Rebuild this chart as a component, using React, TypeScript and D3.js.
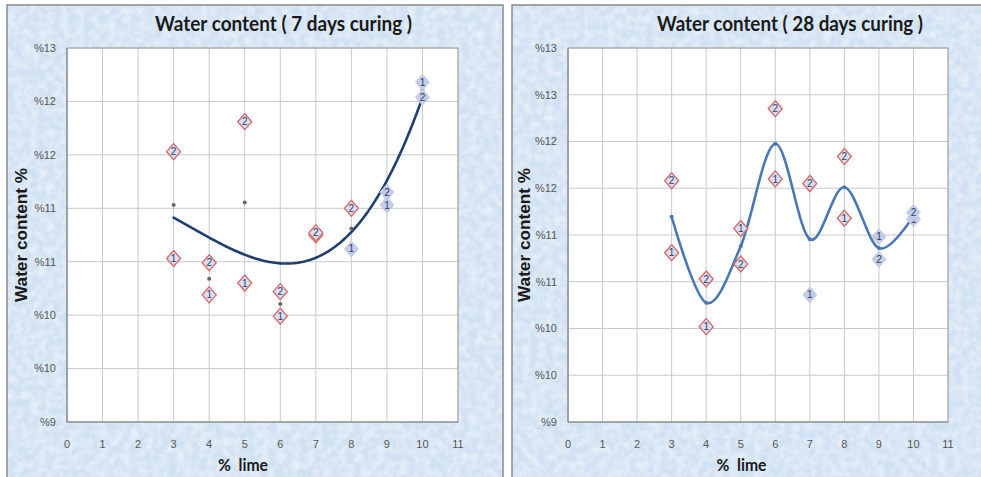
import React from 'react';
import * as d3 from 'd3';

// ---- data ----
const limePct = [3, 4, 5, 6, 7, 8, 9, 10];
const xTicks = [0, 1, 2, 3, 4, 5, 6, 7, 8, 9, 10, 11];
const day7Sample1 = [10.53, 10.19, 10.3, 9.99, 10.75, 10.62, 11.03, 12.18];
const day7Sample2 = [11.53, 10.49, 11.81, 10.22, 10.77, 11.0, 11.15, 12.04];
const day28Sample1 = [10.81, 10.02, 11.07, 11.6, 10.36, 11.18, 10.98, 11.17];
const day28Sample2 = [11.58, 10.53, 10.69, 12.35, 11.55, 11.84, 10.74, 11.24];
const yTicks7 = [9, 9.5, 10, 10.5, 11, 11.5, 12, 12.5];
const yTicks28 = [9, 9.5, 10, 10.5, 11, 11.5, 12, 12.5, 13];
const sampleNames = ['1', '2'];
const titles = ['Water content ( 7 days curing )', 'Water content ( 28 days curing )'];
// markers drawn without the red outline (by lime %)
const plain7 = [[8, 9, 10], [9, 10]];
const plain28 = [[7, 9, 10], [9, 10]];

function polyFit(xs: number[], ys: number[], deg: number) {
  const n = deg + 1;
  const A: number[][] = Array.from({ length: n }, () => new Array(n + 1).fill(0));
  for (let r = 0; r < n; r++) {
    for (let c = 0; c < n; c++) A[r][c] = d3.sum(xs, (x) => Math.pow(x, r + c));
    A[r][n] = d3.sum(xs, (x, i) => Math.pow(x, r) * ys[i]);
  }
  for (let i = 0; i < n; i++) {
    let p = i;
    for (let k = i + 1; k < n; k++) if (Math.abs(A[k][i]) > Math.abs(A[p][i])) p = k;
    [A[i], A[p]] = [A[p], A[i]];
    for (let k = 0; k < n; k++) {
      if (k === i) continue;
      const f = A[k][i] / A[i][i];
      for (let c = i; c <= n; c++) A[k][c] -= f * A[i][c];
    }
  }
  const coef = A.map((row, i) => row[n] / row[i]);
  return (x: number) => coef.reduce((s, c, i) => s + c * Math.pow(x, i), 0);
}

type PanelProps = {
  panel: { x: number; y: number; w: number; h: number };
  plot: { x0: number; x1: number; y0: number; y1: number };
  yTicks: number[];
  s1: number[];
  s2: number[];
  plain: number[][];
  title: string;
  titleX: number;
  titleLen: number;
  yTitleX: number;
  xTitleX: number;
  mode: 'poly' | 'smooth';
  lineColor: string;
};

function Panel(p: PanelProps) {
  const x = d3.scaleLinear().domain([0, 11]).range([p.plot.x0, p.plot.x1]);
  const y = d3
    .scaleLinear()
    .domain([d3.min(p.yTicks)!, d3.max(p.yTicks)!])
    .range([p.plot.y1, p.plot.y0]);
  const avg = limePct.map((_, i) => (p.s1[i] + p.s2[i]) / 2);
  let linePath = '';
  if (p.mode === 'poly') {
    const f = polyFit(limePct, avg, 3);
    const pts = d3.range(3, 10.0001, 0.05).map((v) => [v, f(v)] as [number, number]);
    linePath = d3.line<[number, number]>().x((d) => x(d[0])).y((d) => y(d[1])).curve(d3.curveLinear)(pts) || '';
  } else {
    const pts = limePct.map((v, i) => [v, avg[i]] as [number, number]);
    linePath = d3.line<[number, number]>().x((d) => x(d[0])).y((d) => y(d[1])).curve(d3.curveCardinal.tension(0))(pts) || '';
  }
  const diamond = (cx: number, cy: number) =>
    `M${cx},${cy - 8}L${cx + 7},${cy}L${cx},${cy + 8}L${cx - 7},${cy}Z`;
  const series = [p.s1, p.s2];
  return (
    <g>
      <rect x={p.panel.x} y={p.panel.y} width={p.panel.w} height={p.panel.h} fill="#d0e1f3" stroke="#8a8a8a" strokeWidth={1.5} />
      <rect x={p.panel.x + 1} y={p.panel.y + 1} width={p.panel.w - 2} height={p.panel.h - 2} fill="#ffffff" filter="url(#paper)" opacity={0.6} />
      <rect x={p.plot.x0} y={p.plot.y0} width={p.plot.x1 - p.plot.x0} height={p.plot.y1 - p.plot.y0} fill="#ffffff" />
      {xTicks.map((t) => (
        <line key={'gx' + t} x1={x(t)} x2={x(t)} y1={p.plot.y0} y2={p.plot.y1} stroke="#c9c9c9" strokeWidth={1} />
      ))}
      {p.yTicks.map((t) => (
        <line key={'gy' + t} x1={p.plot.x0} x2={p.plot.x1} y1={y(t)} y2={y(t)} stroke="#c9c9c9" strokeWidth={1} />
      ))}
      <rect x={p.plot.x0} y={p.plot.y0} width={p.plot.x1 - p.plot.x0} height={p.plot.y1 - p.plot.y0} fill="none" stroke="#a0a0a0" strokeWidth={1} />
      <line x1={p.plot.x0} x2={p.plot.x0} y1={p.plot.y0} y2={p.plot.y1} stroke="#8c8c8c" strokeWidth={1.2} />
      <line x1={p.plot.x0} x2={p.plot.x1} y1={p.plot.y1} y2={p.plot.y1} stroke="#8c8c8c" strokeWidth={1.2} />
      {p.yTicks.map((t) => (
        <text key={'ty' + t} x={p.plot.x0 - 11} y={y(t)} dy="0.35em" textAnchor="end" fontFamily="Liberation Sans, Arial, sans-serif" fontSize={11} fill="#555">
          {'%' + Math.round(t)}
        </text>
      ))}
      {xTicks.map((t) => (
        <text key={'tx' + t} x={x(t)} y={448} textAnchor="middle" fontFamily="Liberation Sans, Arial, sans-serif" fontSize={11} fill="#555">
          {t}
        </text>
      ))}
      <path d={linePath} fill="none" stroke={p.lineColor} strokeWidth={2.6} strokeLinecap="round" />
      {limePct.map((v, i) => (
        <circle key={'a' + v} cx={x(v)} cy={y(avg[i])} r={2} fill={p.mode === 'poly' ? '#666' : p.lineColor} />
      ))}
      {series.map((s, si) =>
        limePct.map((v, i) => {
          const plainM = p.plain[si].includes(v);
          const cx = x(v);
          const cy = y(s[i]);
          return (
            <g key={'m' + si + '-' + v}>
              <path
                d={diamond(cx, cy)}
                fill={plainM ? '#c4cbe6' : '#d9def2'}
                stroke={plainM ? '#c4cbe6' : '#d4706c'}
                strokeWidth={plainM ? 1 : 1.4}
              />
              <text x={cx} y={cy} dy="0.36em" textAnchor="middle" fontFamily="Liberation Sans, Arial, sans-serif" fontSize={10} fill="#2a3f66">
                {sampleNames[si]}
              </text>
            </g>
          );
        })
      )}
      <text x={p.titleX} y={31} textAnchor="middle" fontFamily="Lato, sans-serif" fontWeight="bold" fontSize={21} fill="#1a1a1a" textLength={p.titleLen} lengthAdjust="spacingAndGlyphs">
        {p.title}
      </text>
      <text
        transform={`translate(${p.yTitleX},235) rotate(-90)`}
        textAnchor="middle"
        dy="0.35em"
        fontFamily="Liberation Sans, Arial, sans-serif"
        fontWeight="bold"
        fontSize={16}
        fill="#1a1a1a"
        textLength={134}
        lengthAdjust="spacingAndGlyphs"
      >
        Water content %
      </text>
      <text x={p.xTitleX} y={471} textAnchor="middle" fontFamily="Lato, sans-serif" fontWeight="bold" fontSize={17} fill="#1a1a1a" textLength={50} lengthAdjust="spacingAndGlyphs" style={{ whiteSpace: 'pre' }}>
        {'%  lime'}
      </text>
    </g>
  );
}

export default function App() {
  return (
    <svg width={981} height={477} style={{ position: 'absolute', left: 0, top: 0, display: 'block' }}>
      <defs>
        <filter id="paper" x="0" y="0" width="981" height="477" filterUnits="userSpaceOnUse">
          <feTurbulence type="fractalNoise" baseFrequency="0.13" numOctaves={3} seed={4} result="n" />
          <feColorMatrix in="n" type="matrix" values="0 0 0 0 1  0 0 0 0 1  0 0 0 0 1  0 0 0 -1.6 1.1" result="w" />
          <feComposite in="w" in2="SourceGraphic" operator="in" />
        </filter>
      </defs>
      <rect x={0} y={0} width={981} height={477} fill="#ffffff" />
      <Panel
        panel={{ x: 7, y: 5, w: 496, h: 490 }}
        plot={{ x0: 67, x1: 458, y0: 48, y1: 422 }}
        yTicks={yTicks7}
        s1={day7Sample1}
        s2={day7Sample2}
        plain={plain7}
        title={titles[0]}
        titleX={283.5}
        titleLen={257}
        yTitleX={21.5}
        xTitleX={243}
        mode="poly"
        lineColor="#1f3f70"
      />
      <Panel
        panel={{ x: 512, y: 5, w: 490, h: 490 }}
        plot={{ x0: 568, x1: 948, y0: 48, y1: 422 }}
        yTicks={yTicks28}
        s1={day28Sample1}
        s2={day28Sample2}
        plain={plain28}
        title={titles[1]}
        titleX={790}
        titleLen={266}
        yTitleX={524}
        xTitleX={741.5}
        mode="smooth"
        lineColor="#4a78b4"
      />
    </svg>
  );
}
